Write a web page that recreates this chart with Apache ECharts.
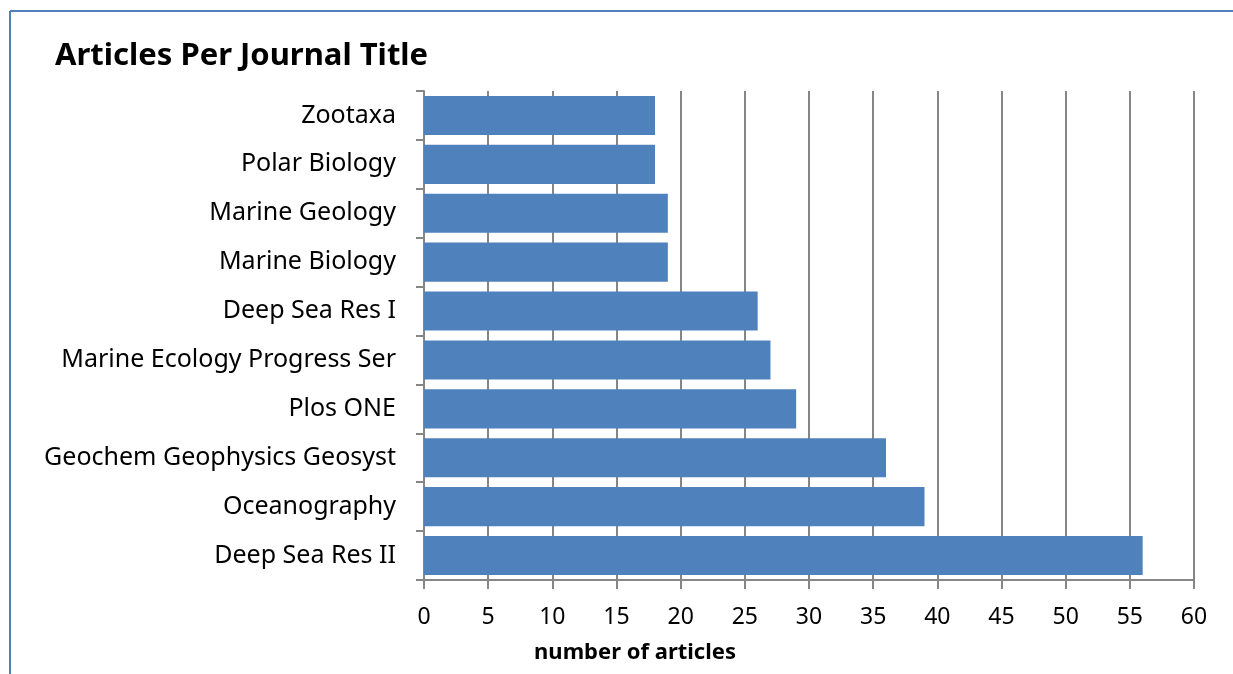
<!DOCTYPE html>
<html><head><meta charset="utf-8">
<script src="https://cdn.jsdelivr.net/npm/echarts@6/dist/echarts.min.js"></script>
<style>html,body{margin:0;padding:0;background:#fff}#c{width:1233px;height:674px}</style>
</head><body><div id="c"></div>
<script>
const journals = ["Deep Sea Res II","Oceanography","Geochem Geophysics Geosyst","Plos ONE","Marine Ecology Progress Ser","Deep Sea Res I","Marine Biology","Marine Geology","Polar Biology","Zootaxa"];
const articles = [56,39,36,29,27,26,19,19,18,18];
const xTicks = [0,5,10,15,20,25,30,35,40,45,50,55,60];
const FONT = "Noto Sans";
const chart = echarts.init(document.getElementById('c'), null, {renderer:'canvas'});
chart.setOption({
  animation:false,
  backgroundColor:'#fff',
  title:{text:'Articles Per Journal Title',left:50,top:36,textStyle:{fontFamily:FONT,fontSize:31,fontWeight:'bold',color:'#000'}},
  graphic:[
    {type:'line',shape:{x1:10,y1:11,x2:1233,y2:11},style:{stroke:'#4F81BD',lineWidth:2}},
    {type:'line',shape:{x1:10,y1:11,x2:10,y2:674},style:{stroke:'#4F81BD',lineWidth:2}}
  ],
  grid:{left:424,right:39,top:91,bottom:94,containLabel:false},
  xAxis:{type:'value',min:0,max:60,interval:5,
    name:'number of articles',nameLocation:'middle',nameGap:62,
    nameTextStyle:{fontFamily:FONT,fontSize:22,fontWeight:'bold',color:'#000',padding:[0,348,0,0]},
    axisLine:{show:true,lineStyle:{color:'#868686',width:2}},
    axisTick:{show:true,length:9,lineStyle:{color:'#868686',width:2}},
    axisLabel:{fontFamily:FONT,fontSize:23,color:'#000',margin:26,formatter:v=>xTicks.includes(v)?String(v):''},
    splitLine:{show:true,lineStyle:{color:'#868686',width:2}}},
  yAxis:{type:'category',data:journals,
    axisLine:{show:true,lineStyle:{color:'#868686',width:2}},
    axisTick:{show:true,length:8,lineStyle:{color:'#868686',width:2}},
    axisLabel:{fontFamily:FONT,fontSize:25,color:'#000',margin:28},
    splitLine:{show:false}},
  series:[{type:'bar',data:articles,barCategoryGap:'20%',itemStyle:{color:'#4F81BD'}}]
});
</script></body></html>
